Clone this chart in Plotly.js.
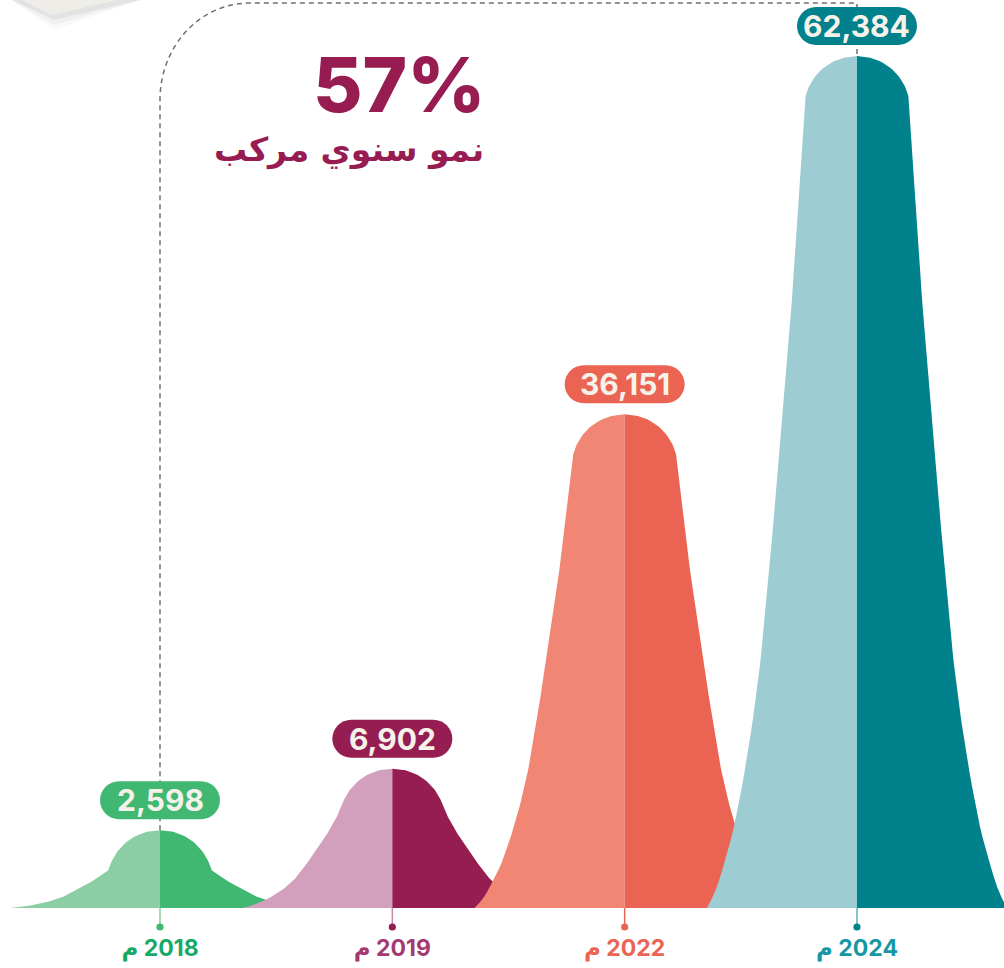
<!DOCTYPE html>
<html><head><meta charset="utf-8">
<script src="https://cdn.plot.ly/plotly-3.0.1.min.js"></script>
<style>html,body{margin:0;padding:0;background:#fff}#chart{width:1004px;height:968px}</style>
</head><body><div id="chart"></div>
<script>
// ---------- data ----------
const years = ['2018', '2019', '2022', '2024'];
const values = [2598, 6902, 36151, 62384];
const valueLabels = ['2,598', '6,902', '36,151', '62,384'];
// peak heights as drawn (the two small years are drawn taller than to scale)
const drawnHeights = [5700, 10200, 36151, 62384];
const yearSuffix = 'م';
const cagrValue = '57%';
const cagrLabel = 'نمو سنوي مركب';

// ---------- styles ----------
const lightColors = ['#8bcea3', '#d29fbd', '#f18674', '#9dccd3'];
const darkColors  = ['#40b871', '#961d52', '#eb6453', '#00818c'];
const labelColors = ['#17a966', '#a33a72', '#eb6453', '#1598a4'];
const stemColors  = ['#8bcea3', '#c58bab', '#eb6453', '#5fb0ba'];
const accent = '#961c52';
const FONT = 'Inter, "DejaVu Sans", sans-serif';

// ---------- geometry ----------
const W = 1004, HP = 968;
const STEP = 232.33;          // px between categories
const X0PX = 160;             // px of first category
const BASE_PX = 908, TOP_PX = 56;
const uPerPx = Math.max(...drawnHeights) / (BASE_PX - TOP_PX);
const xRange = [-X0PX / STEP, (W - X0PX) / STEP];
const yRange = [-(HP - BASE_PX) * uPerPx, BASE_PX * uPerPx];
const pxX = p => (p - X0PX) / STEP;
const pxY = p => (BASE_PX - p) * uPerPx;
const fx = p => p / W, fy = p => 1 - p / HP;

// bell outline: round dome on top, flaring sides (half-width in px vs relative height)
const DOME_R = 53, DOME_DROP = 40;
const sideProfile = [[0,150],[0.02,142],[0.05,134],[0.1,123],[0.15,115],[0.2,108],[0.3,97],[0.4,89],[0.6,75],[0.8,62],[1,51.4]];
function monotone(tbl) {
  const n = tbl.length, xs = tbl.map(p => p[0]), ys = tbl.map(p => p[1]);
  const d = [], m = [];
  for (let i = 0; i < n - 1; i++) d.push((ys[i+1] - ys[i]) / (xs[i+1] - xs[i]));
  m[0] = d[0]; m[n-1] = d[n-2];
  for (let i = 1; i < n - 1; i++) m[i] = (d[i-1] * d[i] <= 0) ? 0 : 2 / (1 / d[i-1] + 1 / d[i]);
  return s => {
    let i = 0; while (i < n - 2 && s > xs[i+1]) i++;
    const h = xs[i+1] - xs[i], t = (s - xs[i]) / h;
    const h00 = 2*t*t*t - 3*t*t + 1, h10 = t*t*t - 2*t*t + t, h01 = -2*t*t*t + 3*t*t, h11 = t*t*t - t*t;
    return h00*ys[i] + h10*h*m[i] + h01*ys[i+1] + h11*h*m[i+1];
  };
}
const side = monotone(sideProfile);
function halfOutline(Hpx) {
  const pts = [];
  const cy = Hpx - DOME_R, hj = Hpx - DOME_DROP;
  for (let i = 0; i <= 24; i++) {
    const h = Hpx - DOME_DROP * i / 24, dy = h - cy;
    pts.push([Math.sqrt(Math.max(0, DOME_R*DOME_R - dy*dy)), h]);
  }
  for (let i = 1; i <= 80; i++) {
    const s = 1 - i / 80;
    pts.push([side(s), s * hj]);
  }
  return pts;
}

const traces = [];
drawnHeights.forEach((hv, i) => {
  const pts = halfOutline(hv / uPerPx);
  [-1, 1].forEach(sgn => {
    const xs = [i], ys = [0];
    pts.forEach(p => { xs.push(i + sgn * p[0] / STEP); ys.push(p[1] * uPerPx); });
    xs.push(i);
    ys.push(0);
    traces.push({
      type: 'scatter', mode: 'lines', x: xs, y: ys, fill: 'toself',
      fillcolor: sgn < 0 ? lightColors[i] : darkColors[i],
      line: {width: 0, color: sgn < 0 ? lightColors[i] : darkColors[i]},
      hoverinfo: 'skip', showlegend: false
    });
  });
});

// ---------- shapes ----------
const shapes = [];
// top-left paper corner with soft shadow
[[10, 30, 0.025], [13, 25, 0.035], [15, 20, 0.05]].forEach(([dx, dy, a]) => {
  shapes.push({type: 'path', xref: 'paper', yref: 'paper', layer: 'below',
    path: `M ${fx(8)},${fy(-2)} L ${fx(54)},${fy(dy)} L ${fx(125 + dx + 10)},${fy(-2)} Z`,
    fillcolor: `rgba(0,0,0,${a})`, line: {width: 0}});
});
shapes.push({type: 'path', xref: 'paper', yref: 'paper', layer: 'below',
  path: `M ${fx(18)},${fy(-2)} L ${fx(52)},${fy(15)} L ${fx(125)},${fy(-2)} Z`,
  fillcolor: '#efede8', line: {width: 0}});

// dashed connector from first to last peak
const last = drawnHeights.length - 1;
shapes.push({type: 'path', xref: 'x', yref: 'y', layer: 'below',
  path: `M 0,${drawnHeights[0]} L 0,${pxY(100)} C 0,${pxY(46)} ${pxX(200)},${pxY(3)} ${pxX(250)},${pxY(3)} L ${last},${pxY(3)} L ${last},${drawnHeights[last]}`,
  line: {color: '#707070', width: 1.5, dash: '5px,4px'}});

// pills, stems, dots
const K = 0.5523, PW = 60, PR = 19, PC = 30;
const pillPath = (() => {
  const a = PW - PR, b0 = PC - PR, b1 = PC + PR, k = PR * K;
  return `M ${-a},${b0} L ${a},${b0} C ${a+k},${b0} ${PW},${PC-k} ${PW},${PC} C ${PW},${PC+k} ${a+k},${b1} ${a},${b1} ` +
         `L ${-a},${b1} C ${-a-k},${b1} ${-PW},${PC+k} ${-PW},${PC} C ${-PW},${PC-k} ${-a-k},${b0} ${-a},${b0} Z`;
})();
drawnHeights.forEach((hv, i) => {
  shapes.push({type: 'path', xref: 'x', yref: 'y', xsizemode: 'pixel', ysizemode: 'pixel',
    xanchor: i, yanchor: hv, path: pillPath, fillcolor: darkColors[i], line: {width: 0}});
  shapes.push({type: 'line', xref: 'x', yref: 'y', ysizemode: 'pixel', yanchor: 0,
    x0: i, x1: i, y0: 0, y1: -19, line: {color: stemColors[i], width: 1.5}});
  shapes.push({type: 'circle', xref: 'x', yref: 'y', xsizemode: 'pixel', ysizemode: 'pixel',
    xanchor: i, yanchor: 0, x0: -3.6, x1: 3.6, y0: -22.6, y1: -15.4,
    fillcolor: darkColors[i], line: {width: 0}});
});

// ---------- annotations ----------
const annotations = drawnHeights.map((hv, i) => ({
  x: i, y: hv, xref: 'x', yref: 'y', yshift: PC, showarrow: false,
  text: valueLabels[i], font: {family: FONT, size: 30, weight: 700, color: '#f6f2ea'},
  xanchor: 'center', yanchor: 'middle'
}));
annotations.push({xref: 'paper', yref: 'paper', x: fx(487), y: fy(84), xanchor: 'right', yanchor: 'middle',
  showarrow: false, text: cagrValue, font: {family: FONT, size: 76, weight: 800, color: accent}});
annotations.push({xref: 'paper', yref: 'paper', x: fx(486), y: fy(150), xanchor: 'right', yanchor: 'middle',
  showarrow: false, text: cagrLabel, font: {family: '"DejaVu Sans", sans-serif', size: 33, weight: 700, color: accent}});

const tickText = years.map((y, i) => `<span style="color:${labelColors[i]}">\u200F${y} ${yearSuffix}</span>`);

const layout = {
  width: W, height: HP, margin: {l: 0, r: 0, t: 0, b: 0},
  paper_bgcolor: '#ffffff', plot_bgcolor: '#ffffff', showlegend: false,
  xaxis: {range: xRange, fixedrange: true, showgrid: false, zeroline: false, showline: false,
    tickvals: years.map((_, i) => i), ticktext: tickText, ticks: '',
    anchor: 'free', position: fy(932), side: 'bottom',
    tickfont: {family: FONT, size: 23, weight: 700, color: '#333'}},
  yaxis: {range: yRange, visible: false, fixedrange: true, showgrid: false, zeroline: false},
  shapes, annotations
};

Plotly.newPlot('chart', traces, layout, {displayModeBar: false, staticPlot: true});
</script></body></html>
